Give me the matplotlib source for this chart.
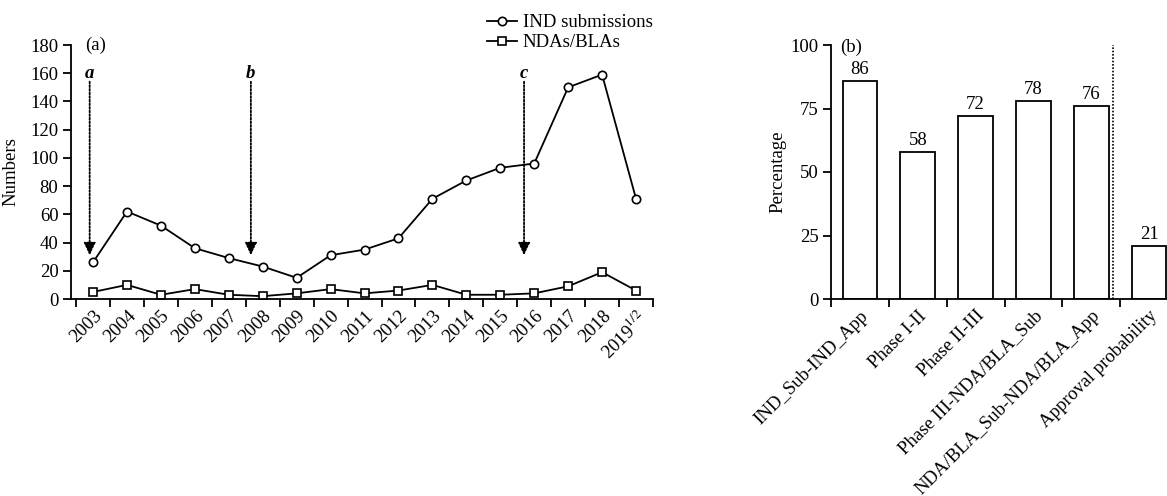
import numpy as np
import matplotlib
matplotlib.use('Agg')
import matplotlib.pyplot as plt

plt.rcParams['font.family'] = ['Liberation Serif', 'DejaVu Serif']
plt.rcParams['mathtext.fontset'] = 'stix'

# panel (a) data
years = ['2003', '2004', '2005', '2006', '2007', '2008', '2009', '2010', '2011',
         '2012', '2013', '2014', '2015', '2016', '2017', '2018', '2019$^{1/2}$']
ind_submissions = [26, 62, 52, 36, 29, 23, 15, 31, 35, 43, 71, 84, 93, 96, 150, 159, 71]
nda_bla = [5, 10, 3, 7, 3, 2, 4, 7, 4, 6, 10, 3, 3, 4, 9, 19, 6]

# event markers (label, x position in year index)
events = [('a', -0.1), ('b', 4.65), ('c', 12.7)]

# panel (b) data
stages = ['IND_Sub-IND_App', 'Phase I-II', 'Phase II-III', 'Phase III-NDA/BLA_Sub',
          'NDA/BLA_Sub-NDA/BLA_App', 'Approval probability']
percent = [86, 58, 72, 78, 76, 21]

FS = 13.5
W, H = 1167, 496

fig = plt.figure(figsize=(W / 100, H / 100), dpi=100)
ax1 = fig.add_axes([71 / W, 1 - 299 / H, 582 / W, 254 / H])
ax2 = fig.add_axes([831 / W, 1 - 299 / H, 347 / W, 254 / H])


def style_axes(ax):
    ax.spines['right'].set_visible(False)
    ax.spines['top'].set_visible(False)
    ax.spines['left'].set_linewidth(1.3)
    ax.spines['bottom'].set_linewidth(1.3)
    ax.tick_params(which='major', direction='out', length=5.5, width=1.3, labelsize=FS)
    ax.tick_params(axis='x', which='minor', length=0, pad=6, labelsize=FS)


# ---- (a) line chart
x = np.arange(len(years))
l1, = ax1.plot(x, ind_submissions, color='black', lw=1.3, marker='o', ms=6,
               mfc='white', mec='black', mew=1.2, label='IND submissions')
l2, = ax1.plot(x, nda_bla, color='black', lw=1.3, marker='s', ms=6,
               mfc='white', mec='black', mew=1.2, label='NDAs/BLAs')

ax1.set_xlim(-0.65, len(years) - 0.5)
ax1.set_ylim(0, 180)
ax1.set_yticks(range(0, 181, 20))
ax1.set_xticks(np.arange(-0.5, len(years), 1))
ax1.set_xticklabels([])
ax1.set_xticks(x, minor=True)
ax1.set_xticklabels(years, minor=True, rotation=45, ha='right', va='top',
                    rotation_mode='anchor')
style_axes(ax1)
ax1.set_ylabel('Numbers', fontsize=FS, labelpad=8)
ax1.text(0.025, 1.0, '(a)', transform=ax1.transAxes, fontsize=FS, va='center', ha='left')

for lab, ex in events:
    ax1.annotate('', xy=(ex, 31), xytext=(ex, 154),
                 arrowprops=dict(arrowstyle='-|>,head_width=0.35,head_length=0.75',
                                 color='black', lw=1.3, linestyle=(0, (1, 1)),
                                 shrinkA=0, shrinkB=0))
    ax1.text(ex, 160, lab, fontsize=FS, fontweight='bold', fontstyle='italic',
             ha='center', va='center')

fig.legend(handles=[l1, l2], loc='upper left', bbox_to_anchor=(487 / W, 1 - 14 / H),
           frameon=False, fontsize=FS, borderpad=0, handlelength=1.6,
           handletextpad=0.3, labelspacing=0.15, borderaxespad=0)

# ---- (b) bar chart
xb = np.arange(len(stages))
bars = ax2.bar(xb, percent, width=0.6, color='white', edgecolor='black', lw=1.3)
ax2.bar_label(bars, padding=2, fontsize=FS)
ax2.axvline(4.38, color='black', lw=1.2, linestyle=(0, (1, 1)))
ax2.set_xlim(-0.5, 5.5)
ax2.set_ylim(0, 100)
ax2.set_yticks([0, 25, 50, 75, 100])
ax2.set_xticks(np.arange(-0.5, len(stages), 1))
ax2.set_xticklabels([])
ax2.set_xticks(xb, minor=True)
ax2.set_xticklabels(stages, minor=True, rotation=45, ha='right', va='top',
                    rotation_mode='anchor')
style_axes(ax2)
ax2.set_ylabel('Percentage', fontsize=FS, labelpad=3)
ax2.text(0.025, 0.99, '(b)', transform=ax2.transAxes, fontsize=FS, va='center', ha='left')

fig.savefig('out.png', dpi=100)
